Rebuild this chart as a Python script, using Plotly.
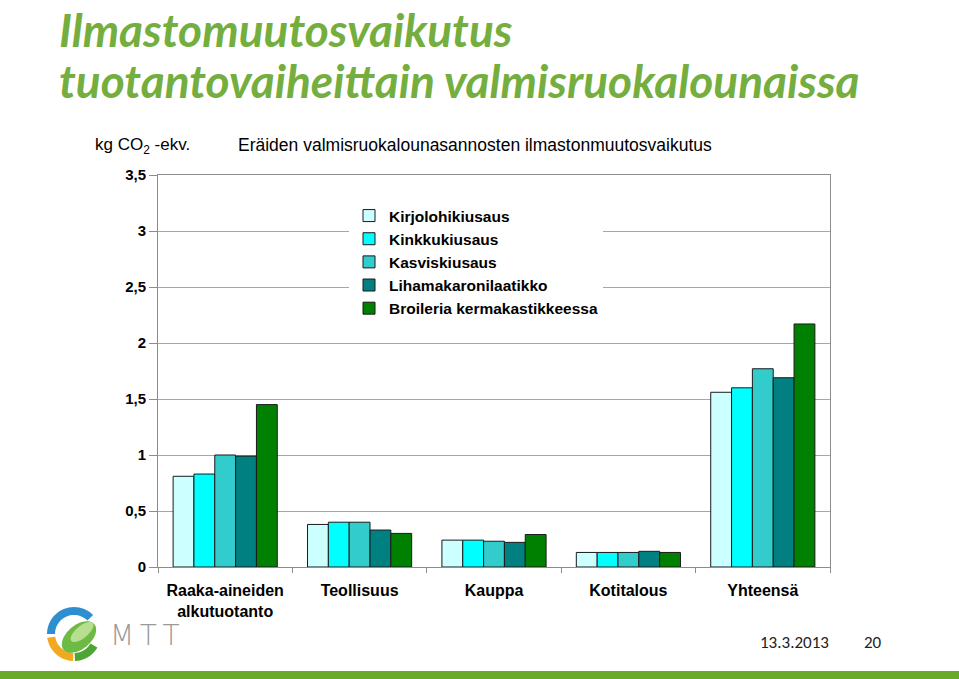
import math
import plotly.graph_objects as go

categories = ["Raaka-aineiden<br>alkutuotanto", "Teollisuus", "Kauppa", "Kotitalous", "Yhteensä"]
series_names = ["Kirjolohikiusaus", "Kinkkukiusaus", "Kasviskiusaus",
                "Lihamakaronilaatikko", "Broileria kermakastikkeessa"]
kirjolohi = [0.81, 0.38, 0.24, 0.13, 1.56]
kinkku = [0.83, 0.40, 0.24, 0.13, 1.60]
kasvis = [1.00, 0.40, 0.23, 0.13, 1.77]
lihamakaroni = [0.99, 0.33, 0.22, 0.14, 1.69]
broileri = [1.45, 0.30, 0.29, 0.13, 2.17]
series_values = [kirjolohi, kinkku, kasvis, lihamakaroni, broileri]
colors = ["#CCFFFF", "#00FFFF", "#33CCCC", "#008080", "#008000"]
y_ticks = [0, 0.5, 1, 1.5, 2, 2.5, 3, 3.5]
y_ticktext = ["0", "0,5", "1", "1,5", "2", "2,5", "3", "3,5"]

L, R, T, B = 158, 830, 175, 567
W, H = 959, 679


def px(x):
    return (x - L) / (R - L)


def py(y):
    return (B - y) / (B - T)


fig = go.Figure()
for name, vals, col in zip(series_names, series_values, colors):
    fig.add_trace(go.Bar(x=categories, y=vals, name=name,
                         marker=dict(color=col, line=dict(color="#1a1a1a", width=1))))

AX = "#8c8c8c"
fig.update_layout(
    width=W, height=H,
    margin=dict(l=L, r=W - R, t=T, b=H - B, pad=0),
    paper_bgcolor="white", plot_bgcolor="white",
    barmode="group", bargap=0.225, bargroupgap=0,
    font=dict(family="Liberation Sans, Arial", size=15, color="black"),
    showlegend=True,
    legend=dict(x=px(349), y=py(199), xanchor="left", yanchor="top",
                bgcolor="white", borderwidth=0, tracegroupgap=0,
                font=dict(family="Liberation Sans, Arial", size=15.5, color="black", weight="bold"),
                itemwidth=30, traceorder="normal"),
    xaxis=dict(showline=True, linecolor=AX, linewidth=1, mirror=True,
               ticks="outside", tickson="boundaries", ticklen=5, tickcolor=AX,
               tickfont=dict(size=16, weight="bold"), showgrid=False,
               ticklabelstandoff=9),
    yaxis=dict(range=[0, 3.5], tickvals=y_ticks, ticktext=y_ticktext,
               showline=True, linecolor=AX, linewidth=1, mirror=True,
               ticks="outside", ticklen=8, tickcolor=AX,
               showgrid=True, gridcolor="#a6a6a6", gridwidth=1,
               tickfont=dict(size=15, weight="bold"), zeroline=False),
)

GREEN = "#74AE3E"
ann = []
ann.append(dict(text="<b><i>Ilmastomuutosvaikutus</i></b>", x=px(57), y=py(30),
                xanchor="left", yanchor="middle",
                font=dict(family="Lato", size=46, color=GREEN)))
ann.append(dict(text="<b><i>tuotantovaiheittain valmisruokalounaissa</i></b>", x=px(57), y=py(80),
                xanchor="left", yanchor="middle",
                font=dict(family="Lato", size=46, color=GREEN)))
ann.append(dict(text="kg CO<sub>2</sub> -ekv.", x=px(93), y=py(146), xanchor="left", yanchor="middle",
                font=dict(size=17)))
ann.append(dict(text="Eräiden valmisruokalounasannosten ilmastonmuutosvaikutus", x=px(236), y=py(145),
                xanchor="left", yanchor="middle", font=dict(size=17.5)))
ann.append(dict(text="13.3.2013", x=px(794), y=py(642), xanchor="center", yanchor="middle",
                font=dict(family="Carlito, Lato", size=17, color="#222")))
ann.append(dict(text="20", x=px(873), y=py(642), xanchor="center", yanchor="middle",
                font=dict(family="Carlito, Lato", size=17, color="#222")))
ann.append(dict(text="M\u2009T\u2009T", x=px(108), y=py(635), xanchor="left", yanchor="middle",
                font=dict(family="DejaVu Sans", size=28, color="#9a9a9a", weight=300)))
for a in ann:
    a.update(xref="paper", yref="paper", showarrow=False)
fig.update_layout(annotations=ann)

shapes = []
shapes.append(dict(type="rect", x0=px(0), x1=px(W), y0=py(671), y1=py(H + 2),
                   fillcolor="#6AAA2A", line=dict(width=0)))


def pth(points):
    return "M " + " L ".join(f"{px(x):.5f},{py(y):.5f}" for x, y in points) + " Z"


def arc(cx, cy, r1, r2, a0, a1, n=24):
    pts = []
    for i in range(n + 1):
        a = math.radians(a0 + (a1 - a0) * i / n)
        pts.append((cx + r2 * math.cos(a), cy - r2 * math.sin(a)))
    for i in range(n, -1, -1):
        a = math.radians(a0 + (a1 - a0) * i / n)
        pts.append((cx + r1 * math.cos(a), cy - r1 * math.sin(a)))
    return pts


def ellipse(cx, cy, rx, ry, rot, n=40):
    pts = []
    c, s = math.cos(math.radians(rot)), math.sin(math.radians(rot))
    for i in range(n):
        t = 2 * math.pi * i / n
        x, y = rx * math.cos(t), ry * math.sin(t)
        pts.append((cx + x * c - y * s, cy - (x * s + y * c)))
    return pts


shapes.append(dict(type="path", path=pth(arc(74, 634, 19, 27, 45, 180)),
                   fillcolor="#2E8FD0", line=dict(width=0)))
shapes.append(dict(type="path", path=pth(arc(74, 634, 19, 27, 188, 268)),
                   fillcolor="#F2A91E", line=dict(width=0)))
shapes.append(dict(type="path", path=pth(arc(74, 634, 19, 27, 272, 330)),
                   fillcolor="#4DA534", line=dict(width=0)))
shapes.append(dict(type="path", path=pth(ellipse(79, 637, 20, 12, 40)),
                   fillcolor="#6DBB45", line=dict(width=0)))
shapes.append(dict(type="path", path=pth(ellipse(82, 632, 14, 6, 40)),
                   fillcolor="#B8DE90", line=dict(width=0)))
for s in shapes:
    s.update(xref="paper", yref="paper", layer="above")
fig.update_layout(shapes=shapes)

fig.write_html("out.html")
